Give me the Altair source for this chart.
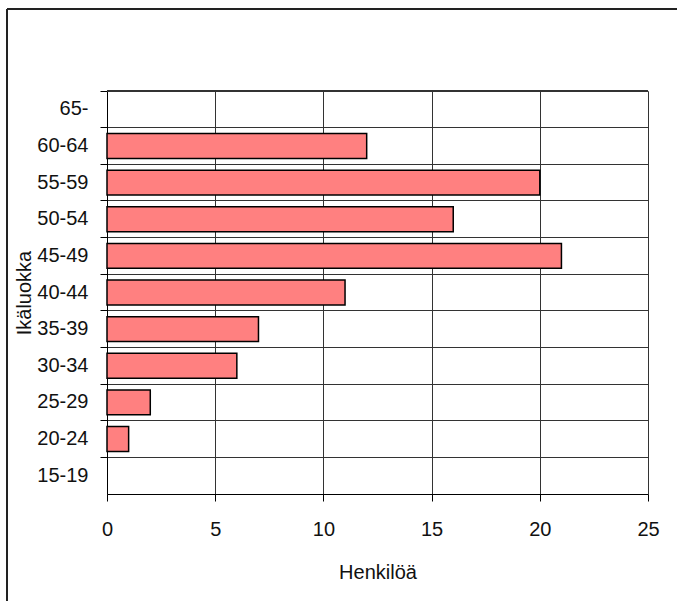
import altair as alt
import pandas as pd

# Age classes (top to bottom) and head counts
age_groups = ["65-", "60-64", "55-59", "50-54", "45-49", "40-44",
              "35-39", "30-34", "25-29", "20-24", "15-19"]
counts = [0, 12, 20, 16, 21, 11, 7, 6, 2, 1, 0]

df = pd.DataFrame({"ikaluokka": age_groups, "henkiloa": counts})

FONT = "Liberation Sans"
W, H = 541, 403
LEFT, TOP = 107, 91

bars = alt.Chart(df).transform_filter(
    alt.datum.henkiloa > 0
).mark_bar(
    color="#FF8080",
    stroke="black",
    strokeWidth=1.5,
    height=alt.RelativeBandSize(0.68),
).encode(
    x=alt.X(
        "henkiloa:Q",
        scale=alt.Scale(domain=[0, 25], nice=False),
        axis=alt.Axis(
            title="Henkilöä",
            values=[0, 5, 10, 15, 20, 25],
            grid=True,
            gridColor="#333333",
            gridWidth=1,
            domainColor="black",
            tickColor="black",
            tickSize=7,
            labelFlush=False,
            labelPadding=18,
            labelFontSize=20,
            labelFont=FONT,
            labelColor="#111111",
            titleFontSize=20,
            titleFont=FONT,
            titleFontWeight="normal",
            titleColor="#111111",
            titleBaseline="alphabetic",
            titleY=84,
        ),
    ),
    y=alt.Y(
        "ikaluokka:N",
        sort=age_groups,
        scale=alt.Scale(domain=age_groups, paddingInner=0, paddingOuter=0),
        axis=alt.Axis(
            title="Ikäluokka",
            grid=True,
            bandPosition=0,
            gridColor="#333333",
            gridWidth=1,
            domainColor="black",
            tickColor="black",
            tickSize=7,
            labelPadding=12,
            labelFontSize=20,
            labelFont=FONT,
            labelColor="#111111",
            labelBaseline="middle",
            titleFontSize=20,
            titleFont=FONT,
            titleFontWeight="normal",
            titleColor="#111111",
            titleAngle=-90,
            titleAlign="center",
            titleBaseline="alphabetic",
            titleX=-77,
            titleY=H / 2,
        ),
    ),
)

# Outer chart frame (left and top edges)
frame_left = alt.Chart(df).mark_rule(color="#222222", strokeWidth=2).encode(
    x=alt.value(7 - LEFT), y=alt.value(9 - TOP), y2=alt.value(601 - TOP + 5)
)
frame_top = alt.Chart(df).mark_rule(color="#222222", strokeWidth=2).encode(
    x=alt.value(7 - LEFT), x2=alt.value(677 - LEFT + 5), y=alt.value(9 - TOP)
)
# Top edge of the plot area
plot_top = alt.Chart(df).mark_rule(color="#333333", strokeWidth=1).encode(
    x=alt.value(0), x2=alt.value(W), y=alt.value(0)
)

chart = alt.layer(frame_left, frame_top, plot_top, bars).properties(
    width=W,
    height=H,
    autosize=alt.AutoSizeParams(type="none"),
    padding={"left": LEFT, "top": TOP, "right": 677 - LEFT - W, "bottom": 601 - TOP - H},
    background="white",
).configure_view(stroke=None)

chart.save("out.html", embed_options={"renderer": "svg", "actions": False})
